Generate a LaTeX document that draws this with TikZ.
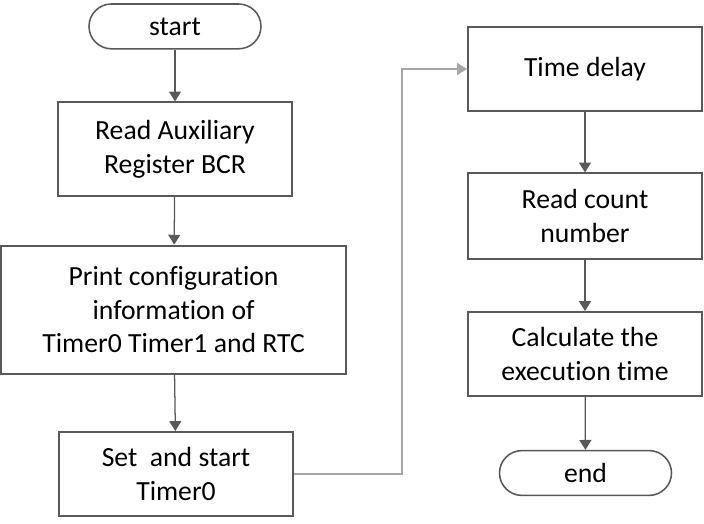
\documentclass[tikz,border=0pt]{standalone}
\usepackage{fontspec}
\setmainfont[Ligatures={NoCommon}]{Carlito}
\usepackage{tikz}
\usetikzlibrary{arrows.meta}
\definecolor{boxgray}{HTML}{595959}
\definecolor{fbgray}{HTML}{A6A6A6}
\tikzset{
>={Triangle[length=7pt,width=8.5pt]},
  stepbox/.style={
    rectangle,
    draw=boxgray, line width=1.4pt,
    minimum width=5.85cm,
    minimum height=2.1cm,
    inner sep=0pt,
    align=center,
    font=\fontsize{19.7pt}{24pt}\selectfont},
  terminal/.style={
    rectangle,
    rounded corners=0.56cm,
    draw=boxgray, line width=1.1pt,
    minimum width=4.3cm,
    minimum height=1.12cm,
    inner sep=0pt,
    font=\fontsize{19.7pt}{24pt}\selectfont},
  line/.style={draw=boxgray, line width=0.9pt, ->},
  feedback/.style={draw=fbgray, line width=0.9pt, ->},
}
\begin{document}
\begin{tikzpicture}
			\useasboundingbox (0,0) rectangle (17.6,-13.1);
			% left column
			\node[terminal] (start) at (4.375,-0.66) {start};
			\node[stepbox, minimum height=2.33cm] (read) at (4.375,-3.725) {Read Auxiliary\\Register BCR};
			\node[stepbox, minimum width=8.63cm, minimum height=3.2cm] (print) at (4.34,-7.74) {Print configuration\\information of\\Timer0 Timer1 and RTC};
			\node[stepbox] (set) at (4.4,-11.85) {Set~ and start\\Timer0};
			% right column
			\node[stepbox] (delay) at (14.625,-1.725) {Time delay};
			\node[stepbox, minimum height=2.13cm] (count) at (14.625,-5.4) {Read count\\number};
			\node[stepbox] (calc) at (14.625,-8.85) {Calculate the\\execution time};
			\node[terminal] (end) at (14.6375,-11.825) {end};
			\foreach \a/\b in {start/read, read/print, print/set, delay/count, count/calc, calc/end}{
				\draw[line] (\a) -- (\b);
			}
			\coordinate (fb) at (10.05,-11.85);
			\draw[feedback] (set.east) -- (fb) |- (delay.west);
		\end{tikzpicture}
\end{document}
